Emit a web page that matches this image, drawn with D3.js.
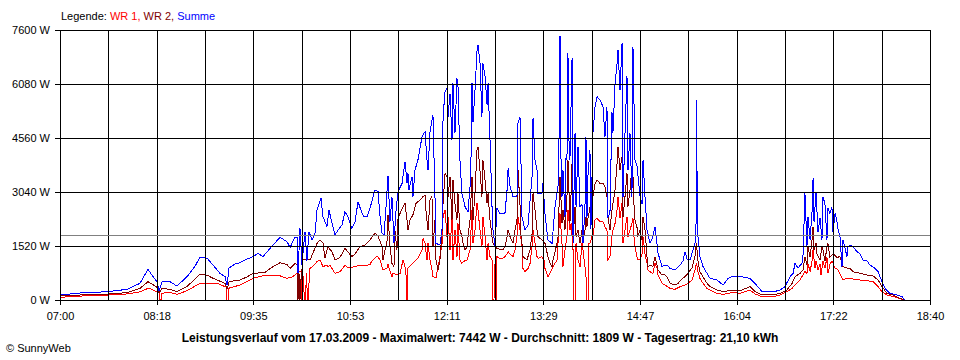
<!DOCTYPE html>
<html><head><meta charset="utf-8">
<script src="https://cdn.jsdelivr.net/npm/d3@7"></script>
<style>
body{margin:0;background:#fff;}
svg{display:block;font-family:"Liberation Sans",Arial,sans-serif;}
</style>
</head><body>
<svg id="c" width="960" height="360"></svg>
<script>
// ---- data (time = minutes after 07:00, value = W) ----
const timeLabels = ["07:00","08:18","09:35","10:53","12:11","13:29","14:47","16:04","17:22","18:40"];
const yTickValues = [0,1520,3040,4560,6080,7600];
const dayMinutes = 700;
const average = 1809;
const legendLabel = "Legende:";
const seriesNames = ["WR 1","WR 2","Summe"];
const titleText = "Leistungsverlauf vom 17.03.2009 - Maximalwert: 7442 W - Durchschnitt: 1809 W - Tagesertrag: 21,10 kWh";
const creditText = "\u00A9 SunnyWeb";

const summe = [[0,140],[16.1,197],[38.6,235],[53.9,300],[64.4,470],[70.8,864],[74.0,700],[78.0,515],[79.7,260],[82.1,515],[88.5,515],[94.1,394],[102.2,656],[108.6,950],[112.6,1200],[118.3,1180],[123.1,985],[128.7,750],[132.8,656],[134.4,422],[136.0,900],[140.8,1013],[144.8,1050],[150.5,1150],[155.3,1220],[159.3,1313],[163.3,1220],[169.0,1454],[177.0,1764],[182.6,1642],[185.1,1482],[189.1,1764],[190.7,1764],[191.5,750],[193.1,2017],[194.7,1000],[197.1,1923],[198.7,1100],[200.3,1923],[202.8,1689],[205.2,1877],[206.8,2533],[210.0,2862],[211.6,2345],[214.8,2063],[216.4,2533],[218.9,2158],[221.3,1830],[223.7,1970],[226.9,2111],[229.3,2486],[231.7,2345],[234.9,2017],[237.4,2204],[239.8,2767],[243.0,2440],[244.6,2346],[247.0,2346],[249.4,2580],[253.4,3096],[255.9,3050],[257.5,2345],[259.1,1877],[260.7,1830],[262.3,2600],[263.9,3500],[265.5,2200],[267.1,2900],[268.7,1595],[270.3,2500],[272.0,3050],[275.2,3284],[277.6,3893],[279.2,3300],[280.0,3566],[280.8,3096],[283.2,3472],[284.0,2909],[285.6,3660],[288.0,3941],[291.3,4597],[293.7,4738],[295.3,3941],[296.1,3660],[297.7,4738],[299.3,5067],[300.1,5208],[301.7,2909],[302.5,1595],[305.7,1548],[307.4,2000],[308.2,5160],[309.8,5864],[311.4,5958],[312.2,5160],[313.8,5800],[315.4,4500],[316.2,6098],[317.8,4700],[319.4,6239],[320.2,6052],[321.8,3941],[323.4,3000],[325.9,2627],[328.3,2480],[329.9,3190],[330.7,4000],[331.5,6098],[332.3,5000],[333.9,5900],[335.5,6990],[336.3,7178],[337.9,6700],[339.5,5160],[340.3,6662],[342.0,6300],[343.6,5500],[344.4,6098],[346.0,4504],[347.6,2627],[348.4,1970],[350.0,1501],[351.6,2580],[354.0,2440],[358.0,2440],[359.7,3096],[360.5,3700],[362.1,3190],[364.5,2909],[367.7,2909],[368.5,4973],[370.1,5160],[370.9,3893],[371.7,2345],[374.1,1970],[376.6,2111],[379.8,3472],[380.6,5114],[382.2,3941],[383.8,3660],[384.6,3003],[387.8,3003],[388.6,3300],[390.2,2440],[392.6,1689],[395.9,1595],[398.3,2627],[400.7,3190],[401.5,4500],[402.3,7431],[403.1,4000],[403.9,2900],[404.7,3660],[406.3,2345],[407.1,4000],[407.9,3941],[408.7,6943],[409.5,4500],[410.3,3941],[411.2,5500],[412.0,6803],[412.8,1595],[414.4,4692],[415.2,2627],[416.8,4315],[418.4,2627],[420.0,2700],[420.8,1595],[422.4,2627],[423.2,4597],[424.0,2300],[424.8,3500],[426.4,4222],[427.2,2000],[428.8,4692],[430.5,5441],[432.1,5723],[434.5,5630],[436.9,5441],[438.5,4600],[440.1,5441],[440.9,2345],[442.5,2440],[444.1,5300],[444.9,4700],[446.6,6098],[448.2,6662],[449.0,7037],[450.6,5900],[452.2,7225],[453.0,2909],[454.6,4700],[456.2,6300],[457.0,3660],[458.6,4692],[460.2,2909],[461.0,7131],[461.8,5630],[462.6,3941],[464.2,3800],[465.0,3500],[466.7,2909],[468.3,2700],[469.1,3941],[470.7,2909],[472.3,1970],[474.7,1600],[476.3,1700],[478.7,2063],[480.3,1600],[481.2,1313],[484.4,938],[486.8,980],[488.4,985],[490.8,891],[494.8,844],[498.9,985],[501.3,1100],[502.9,1360],[504.5,1150],[506.9,1126],[509.3,1407],[510.9,1600],[511.7,1783],[512.1,5630],[512.9,2000],[513.3,1783],[514.9,1220],[517.4,938],[520.6,750],[523.0,610],[528.6,563],[533.5,422],[537.5,610],[541.5,675],[547.1,660],[555.2,610],[559.2,469],[564.8,235],[568.8,235],[573.7,225],[579.3,281],[583.3,375],[587.4,656],[589.8,750],[591.4,1032],[593.8,900],[597.0,1032],[597.8,1220],[599.4,3003],[601.0,1500],[601.8,2345],[603.5,1700],[605.1,2500],[605.9,3424],[606.7,2200],[608.3,3050],[609.9,1900],[611.5,2300],[613.1,1700],[613.9,2909],[615.5,2700],[617.1,1700],[617.9,2600],[619.5,2440],[621.1,2600],[622.0,1900],[623.6,2440],[625.2,2200],[626.0,2000],[627.6,1783],[629.2,938],[630.0,1700],[633.2,1220],[634.0,1500],[635.6,1548],[638.1,1500],[641.3,1360],[643.7,1300],[646.1,1126],[649.3,1100],[651.7,985],[655.7,891],[658.2,797],[661.4,516],[663.8,328],[667.8,188],[673.4,141],[677.5,94],[679.9,0]];

const wr2 = [[0,113],[16.1,140],[38.6,169],[53.9,206],[64.4,330],[70.8,515],[74.0,450],[78.0,360],[79.7,200],[82.1,328],[88.5,300],[94.1,235],[102.2,380],[112.6,722],[118.3,700],[123.1,610],[128.7,530],[132.8,470],[134.4,300],[136.0,515],[144.8,563],[150.5,650],[155.3,750],[159.3,760],[164.9,780],[171.4,938],[177.0,1050],[182.6,1000],[185.1,891],[189.1,1032],[190.7,1000],[191.0,0],[191.5,0],[192.0,1000],[193.1,0],[193.6,469],[195.5,1126],[201.2,1126],[206.8,1595],[209.2,1689],[211.6,1600],[213.2,1173],[215.6,1501],[218.9,1350],[221.3,1126],[225.3,1200],[229.3,1454],[231.7,1350],[234.9,1220],[237.4,1300],[241.4,1501],[245.4,1550],[249.4,1689],[253.4,1877],[255.9,1800],[259.1,1501],[259.9,1126],[261.5,1400],[263.1,1650],[263.9,2393],[265.5,1501],[267.1,1032],[268.7,938],[269.5,1970],[271.1,1400],[272.0,2300],[273.6,2440],[276.0,2627],[277.6,2720],[279.2,2250],[280.0,1970],[281.6,2250],[284.0,2400],[286.4,2720],[289.7,2815],[292.1,2909],[293.7,2950],[294.5,2500],[296.1,1970],[297.7,2815],[299.3,2909],[300.1,1501],[301.7,2250],[302.5,1126],[304.1,845],[305.7,1126],[307.4,1970],[308.2,2720],[309.8,3566],[311.4,3472],[312.2,2909],[313.8,3472],[315.4,2250],[316.2,3380],[317.8,2720],[319.4,2250],[320.2,3000],[321.8,1970],[323.4,1783],[324.3,1595],[325.9,1407],[327.5,1501],[328.3,1783],[329.9,2250],[331.5,3472],[332.3,2250],[333.9,3000],[335.5,4222],[336.3,4315],[337.9,3660],[339.5,2909],[340.3,3941],[342.0,3380],[343.6,2720],[344.4,3000],[346.0,2250],[347.6,1783],[348.4,1595],[350.0,1501],[351.6,1455],[356.4,1407],[358.0,1501],[359.7,1783],[360.5,1970],[362.1,1783],[364.5,1595],[366.1,1970],[367.7,2250],[368.5,3660],[370.1,2700],[370.9,1800],[371.7,1595],[372.5,1220],[375.7,1126],[378.2,1407],[379.8,1877],[380.6,3003],[382.2,2533],[383.8,1970],[384.6,1783],[387.8,1689],[390.2,1595],[392.6,1220],[394.3,1032],[395.9,938],[396.7,1126],[399.9,1595],[400.7,1783],[402.3,3472],[403.9,2158],[404.7,2533],[406.3,1970],[407.9,2909],[408.7,3941],[410.3,2158],[411.2,3000],[412.0,3847],[412.8,1689],[414.4,2627],[415.2,1783],[416.8,1970],[418.4,1595],[420.0,1970],[420.8,1595],[422.4,1970],[423.2,2345],[424.0,2063],[424.8,2300],[425.6,2440],[426.4,2627],[427.2,2200],[428.8,2909],[430.5,3284],[432.1,3380],[434.5,3284],[436.9,3284],[438.5,3190],[440.1,2909],[440.9,2345],[442.5,1970],[444.1,2533],[444.9,2720],[446.6,3096],[448.2,3847],[449.0,4315],[450.6,3660],[452.2,4034],[453.0,2345],[454.6,2909],[456.2,3566],[457.0,2627],[458.6,3096],[460.2,3753],[461.0,3500],[461.8,2720],[462.6,2250],[464.2,2063],[465.0,1783],[466.7,1970],[468.3,1689],[469.1,2345],[470.7,1970],[472.3,1220],[473.1,938],[474.7,985],[477.1,938],[478.7,1220],[480.3,1000],[481.2,845],[484.4,704],[486.8,704],[488.4,650],[490.8,469],[494.8,422],[497.3,469],[500.5,600],[502.9,657],[505.3,750],[508.5,900],[510.9,1220],[512.1,1595],[513.3,1100],[514.9,798],[517.4,650],[520.6,469],[523.0,375],[528.6,281],[533.5,235],[537.5,260],[541.5,280],[547.1,260],[555.2,375],[559.2,235],[564.8,141],[573.7,141],[579.3,188],[584.9,281],[589.0,469],[591.4,656],[595.4,750],[597.8,844],[599.4,1220],[601.0,1000],[601.8,1500],[603.5,1200],[605.1,1700],[605.9,2063],[606.7,1400],[608.3,1600],[609.1,1300],[611.5,1126],[613.1,1501],[613.9,1400],[615.5,1100],[617.1,1500],[617.9,1595],[619.5,1200],[622.0,1300],[625.2,1200],[627.6,1220],[630.0,938],[633.2,900],[635.6,891],[638.1,797],[643.7,750],[649.3,704],[654.1,680],[658.2,563],[661.4,375],[665.4,188],[670.2,141],[675.9,47],[679.9,0]];

const wr1 = [[0,75],[16.1,110],[38.6,140],[53.9,170],[64.4,230],[70.8,328],[74.0,300],[78.0,230],[80.1,200],[80.5,0],[81.3,0],[81.7,190],[88.5,210],[94.1,160],[102.2,260],[112.6,470],[120.7,470],[126.3,470],[132.8,375],[133.6,375],[134.0,0],[135.2,0],[135.6,330],[144.8,422],[150.5,516],[155.3,610],[163.3,680],[171.4,700],[177.0,680],[182.6,610],[187.1,650],[190.7,750],[193.1,800],[193.9,800],[194.3,0],[195.1,0],[195.5,700],[196.7,0],[197.5,0],[198.3,750],[199.1,0],[199.9,0],[200.7,850],[201.2,891],[203.6,950],[206.8,1080],[209.2,1120],[211.6,938],[214.8,985],[215.6,938],[217.2,985],[221.3,750],[225.3,800],[227.7,900],[229.3,985],[231.7,900],[237.4,938],[241.4,985],[245.4,960],[249.4,1000],[251.0,1100],[255.1,1238],[257.5,1126],[259.9,845],[263.1,900],[263.9,1000],[267.1,657],[267.9,750],[271.1,720],[273.6,750],[276.0,1126],[277.6,938],[278.4,700],[278.8,0],[279.6,0],[280.0,900],[284.0,1032],[288.0,1173],[291.3,1407],[292.1,1736],[293.7,1595],[295.3,1126],[296.1,1595],[297.7,1126],[299.3,845],[300.1,656],[302.5,620],[305.7,1220],[307.4,1595],[308.2,2345],[309.8,2533],[311.4,1783],[312.2,2345],[313.8,1407],[315.4,2345],[316.2,1126],[317.8,1970],[319.4,1220],[320.2,2158],[321.8,1126],[323.4,1032],[324.3,1080],[327.5,1126],[329.9,1407],[331.5,2533],[332.3,1595],[333.9,1970],[335.5,2720],[336.3,2533],[337.9,1970],[339.5,1501],[340.3,2345],[342.0,1783],[343.6,1126],[344.4,1595],[346.0,1220],[347.6,1126],[348.0,0],[349.2,0],[349.6,1000],[350.4,0],[351.2,0],[351.6,1220],[354.0,1173],[356.4,1173],[358.0,1220],[359.7,1300],[360.5,1360],[362.1,1300],[364.5,1220],[366.1,1407],[367.7,1783],[368.5,2345],[370.1,1970],[371.7,1500],[372.5,891],[374.1,798],[376.6,891],[378.2,1032],[379.8,1501],[380.6,1970],[382.2,1595],[383.8,1220],[384.6,1173],[387.8,1220],[389.4,1126],[390.2,891],[392.6,657],[393.4,700],[396.7,938],[399.9,1126],[400.7,1595],[402.3,2440],[403.9,1595],[404.7,938],[406.3,1407],[407.9,1783],[408.7,2533],[410.3,1970],[411.2,2158],[412.8,1407],[413.2,0],[414.4,0],[415.2,1595],[416.8,1126],[418.4,938],[420.0,1595],[420.8,1407],[422.4,938],[423.2,700],[423.6,0],[425.2,0],[425.6,1595],[426.4,1595],[428.0,1783],[428.8,1783],[430.5,2252],[432.1,2300],[434.5,2200],[436.9,2200],[438.5,2063],[440.1,1970],[440.9,1126],[442.5,1220],[444.1,1783],[444.9,1970],[446.6,2158],[448.2,2533],[449.0,2909],[450.6,2300],[452.2,2720],[453.0,1595],[454.6,1970],[456.2,2345],[457.0,1783],[458.6,1970],[460.2,2158],[461.0,2300],[461.8,1783],[462.6,1501],[464.2,1220],[465.0,1126],[466.7,1150],[468.3,1300],[469.1,1783],[470.7,1300],[472.3,1032],[473.1,845],[474.7,798],[477.1,750],[478.7,1032],[480.3,900],[481.2,700],[484.4,469],[486.8,422],[490.8,328],[494.8,300],[498.9,375],[502.9,422],[505.3,469],[508.5,560],[510.9,845],[512.1,1032],[513.3,800],[514.9,610],[517.4,469],[520.6,328],[523.0,281],[528.6,188],[533.5,160],[537.5,188],[541.5,210],[547.1,188],[555.2,281],[559.2,169],[564.8,94],[573.7,94],[579.3,141],[584.9,235],[589.0,328],[591.4,422],[595.4,563],[599.4,797],[601.0,750],[601.8,1032],[603.5,800],[605.1,1100],[605.9,1407],[607.5,900],[608.3,1100],[609.9,850],[611.5,1000],[612.3,700],[613.9,1100],[615.5,900],[617.1,1200],[617.9,751],[619.5,1000],[621.1,1100],[623.6,900],[626.0,850],[630.0,563],[633.2,610],[635.6,600],[638.1,590],[643.7,563],[649.3,540],[654.1,520],[658.2,375],[661.4,235],[665.4,141],[670.2,100],[675.9,40],[679.9,0]];

// ---- drawing ----
const colors = {wr1:"#ff0000", wr2:"#800000", summe:"#0000ff"};
const svg = d3.select("#c");
const x = d3.scaleLinear().domain([0, dayMinutes]).range([60, 930]);
const y = d3.scaleLinear().domain([0, 7600]).range([300, 30]);
const line = d3.line().x(d => x(d[0])).y(d => y(d[1]));

const seriesList = [[wr1, colors.wr1], [wr2, colors.wr2], [summe, colors.summe]];
svg.append("g").selectAll("path").data(seriesList).join("path")
  .attr("d", d => line(d[0]))
  .attr("fill", "none").attr("stroke", d => d[1]).attr("stroke-width", 1)
  .attr("shape-rendering", "crispEdges");

// vertical grid (18 intervals)
const gridTimes = d3.range(19).map(i => i * dayMinutes / 18);
const gx = svg.append("g").attr("transform", "translate(0,300)")
  .call(d3.axisBottom(x).tickValues(gridTimes).tickSize(-270).tickSizeOuter(0).tickFormat(""));
gx.selectAll("line").attr("stroke", "#000").attr("shape-rendering", "crispEdges");
gx.select(".domain").attr("stroke", "#000").attr("shape-rendering", "crispEdges");

// horizontal grid
svg.append("g").selectAll("line").data(yTickValues).join("line")
  .attr("x1", 60).attr("x2", 930).attr("y1", d => y(d)).attr("y2", d => y(d))
  .attr("stroke", "#000").attr("shape-rendering", "crispEdges");

// average line
svg.append("line").attr("x1", 60).attr("x2", 930).attr("y1", y(average)).attr("y2", y(average))
  .attr("stroke", "#808080").attr("shape-rendering", "crispEdges");

// y axis labels
const ya = svg.append("g").attr("transform", "translate(60,0)")
  .call(d3.axisLeft(y).tickValues(yTickValues).tickSize(5).tickSizeOuter(0).tickPadding(5).tickFormat(d => d + " W"));
ya.select(".domain").attr("stroke", "#000").attr("shape-rendering", "crispEdges");
ya.selectAll("line").attr("stroke", "#000").attr("shape-rendering", "crispEdges");
ya.selectAll("text").attr("font-size", 11).attr("fill", "#000").attr("font-family", "Liberation Sans, Arial, sans-serif");

// x axis labels
const labelTimes = d3.range(timeLabels.length).map(i => i * dayMinutes / (timeLabels.length - 1));
const xa = svg.append("g").attr("transform", "translate(0,300)")
  .call(d3.axisBottom(x).tickValues(labelTimes).tickSize(5).tickSizeOuter(0).tickPadding(7).tickFormat((d, i) => timeLabels[i]));
xa.select(".domain").remove();
xa.selectAll("line").attr("stroke", "#000").attr("shape-rendering", "crispEdges");
xa.selectAll("text").attr("font-size", 11).attr("fill", "#000").attr("font-family", "Liberation Sans, Arial, sans-serif");

// legend
const lg = svg.append("text").attr("x", 61).attr("y", 20).attr("font-size", 11);
lg.append("tspan").attr("fill", "#000").text(legendLabel + " ");
lg.append("tspan").attr("fill", colors.wr1).text(seriesNames[0] + ",");
lg.append("tspan").attr("fill", "#000").text(" ");
lg.append("tspan").attr("fill", colors.wr2).text(seriesNames[1] + ",");
lg.append("tspan").attr("fill", "#000").text(" ");
lg.append("tspan").attr("fill", colors.summe).text(seriesNames[2]);

// title
svg.append("text").attr("x", 480).attr("y", 342).attr("text-anchor", "middle")
  .attr("font-size", 12).attr("font-weight", "bold").attr("fill", "#000").text(titleText);

// credit
svg.append("text").attr("x", 6).attr("y", 352).attr("font-size", 11).attr("fill", "#000").text(creditText);
</script>
</body></html>
